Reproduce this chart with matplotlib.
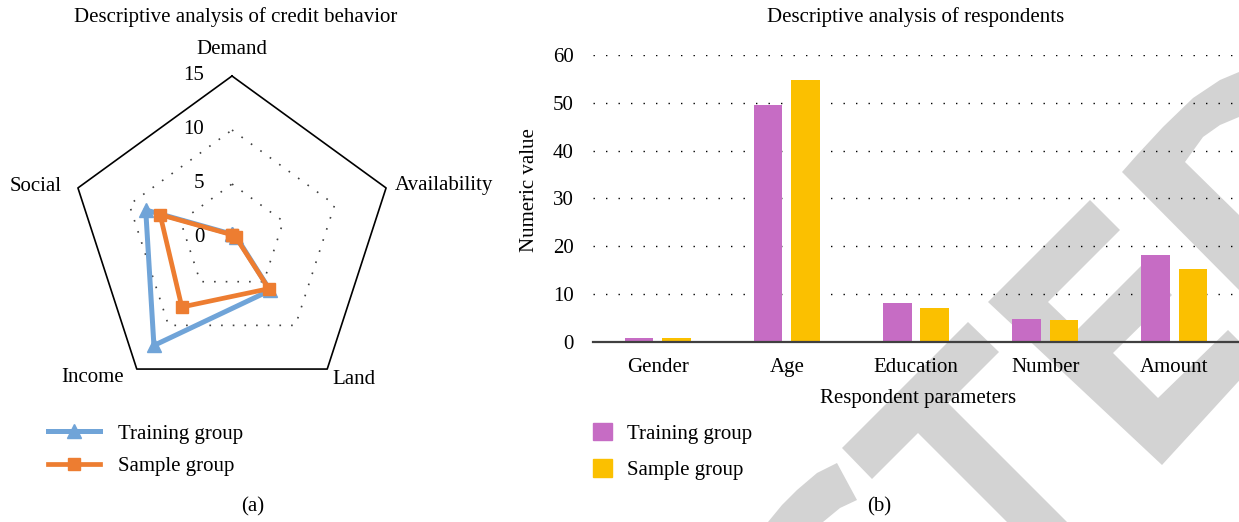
import numpy as np
import matplotlib
matplotlib.use('Agg')
import matplotlib.pyplot as plt
from matplotlib.patches import Polygon, Patch
from matplotlib.lines import Line2D

plt.rcParams['font.family'] = ['Liberation Serif', 'DejaVu Serif']
plt.rcParams['font.size'] = 15

# radar chart (a)
radar_labels = ['Demand', 'Availability', 'Land', 'Income', 'Social']
radar_training = [0.35, 0.4, 6.0, 12.3, 8.4]
radar_sample = [0.3, 0.35, 5.8, 7.9, 7.0]
radar_ticks = [0, 5, 10, 15]

# bar chart (b)
bar_categories = ['Gender', 'Age', 'Education', 'Number', 'Amount']
bar_training = [0.7, 49.5, 8.2, 4.7, 18.1]
bar_sample = [0.7, 54.7, 7.0, 4.5, 15.2]

blue = '#70A4D8'
orange = '#ED7D31'
purple = '#C66CC4'
yellow = '#FBC000'

W, H = 1239, 522
fig = plt.figure(figsize=(W / 100, H / 100), dpi=100)

# grey watermark strokes in the background (pixel coords)
watermark = [
    [(842, 448), (968, 322), (999, 352), (948, 403), (1067, 522), (1007, 522), (918, 433), (872, 479)],
    [(988, 302), (1090, 200), (1120, 230), (1048, 302), (1077, 330), (1142, 265), (1172, 295),
     (1113, 353), (1158, 398), (1228, 330), (1258, 360), (1162, 465)],
    [(768, 522), (782, 505), (797, 490), (817, 473), (837, 463), (857, 500), (840, 508), (823, 522)],
    [(1122, 172), (1137, 155), (1163, 127), (1193, 98), (1220, 80), (1239, 72), (1239, 117),
     (1220, 125), (1203, 137), (1185, 162), (1239, 215), (1239, 290)],
]
bg = fig.add_axes([0, 0, 1, 1], zorder=0)
bg.set_xlim(0, W)
bg.set_ylim(H, 0)
bg.axis('off')
for poly in watermark:
    bg.add_patch(Polygon(poly, closed=True, facecolor='#D3D3D3', edgecolor='none'))

# ---- (a) radar ----
axr = fig.add_axes([70 / W, (H - 238 - 162) / H, 324 / W, 324 / H], projection='polar', zorder=1)
axr.set_theta_zero_location('N')
axr.set_theta_direction(-1)
theta = np.linspace(0, 2 * np.pi, len(radar_labels), endpoint=False)
tc = np.append(theta, theta[0])
rmax = radar_ticks[-1]
axr.set_ylim(0, rmax)
axr.grid(False)
axr.set_xticks([])
axr.set_yticks([])
axr.spines['polar'].set_visible(False)
axr.patch.set_visible(False)

for r in radar_ticks[1:-1]:
    axr.plot(tc, [r] * len(tc), color='#404040', lw=1.2, ls=(0, (1, 6)), clip_on=False)
axr.plot(tc, [rmax] * len(tc), color='black', lw=1.2, clip_on=False)

def closed(v):
    return list(v) + [v[0]]

axr.plot(tc, closed(radar_training), color=blue, lw=3.6, marker='^', ms=10, clip_on=False,
         solid_joinstyle='round')
axr.plot(tc, closed(radar_sample), color=orange, lw=3.4, marker='s', ms=9, clip_on=False,
         solid_joinstyle='round')

for r in radar_ticks:
    axr.annotate(str(r), xy=(0, r), xytext=(-20, 0), textcoords='offset points',
                 ha='right', va='center')

label_offsets = {
    'Demand': ((0, 19), 'center'),
    'Availability': ((6.5, 1.5), 'left'),
    'Land': ((3.5, -7.5), 'left'),
    'Income': ((-9.5, -6), 'right'),
    'Social': ((-12, 1), 'right'),
}
for t, name in zip(theta, radar_labels):
    off, ha = label_offsets[name]
    axr.annotate(name, xy=(t, rmax), xytext=off, textcoords='offset points', ha=ha, va='center')

h1 = [Line2D([], [], color=blue, lw=3.6, marker='^', ms=10),
      Line2D([], [], color=orange, lw=3.4, marker='s', ms=9)]
axr.legend(h1, ['Training group', 'Sample group'], loc='upper left',
           bbox_to_anchor=(48 / W, 1 - 424 / H), bbox_transform=fig.transFigure,
           frameon=False, borderpad=0, borderaxespad=0, handlelength=2.5,
           handletextpad=0.85, labelspacing=0.64)

# ---- (b) bars ----
axb = fig.add_axes([593 / W, (H - 341.7) / H, (W - 593) / W, 286.7 / H], zorder=1)
axb.patch.set_visible(False)
x = np.arange(len(bar_categories))
axb.bar(x - 0.145, bar_training, 0.222, color=purple, label='Training group', zorder=2)
axb.bar(x + 0.145, bar_sample, 0.222, color=yellow, label='Sample group', zorder=2)
axb.set_xlim(-0.5, len(bar_categories) - 0.5)
axb.set_ylim(0, 60)
axb.set_yticks(range(0, 61, 10))
axb.set_xticks(x)
axb.set_xticklabels(bar_categories)
axb.tick_params(axis='both', length=0)
axb.tick_params(axis='y', pad=14)
axb.tick_params(axis='x', pad=12)
axb.yaxis.grid(True, color='black', lw=1.0, ls=(0, (1, 8)))
axb.set_axisbelow(True)
for s in ['left', 'top', 'right']:
    axb.spines[s].set_visible(False)
axb.spines['bottom'].set_color('#404040')
axb.spines['bottom'].set_linewidth(1.6)
axb.spines['bottom'].set_zorder(3)

h2 = [Patch(color=purple), Patch(color=yellow)]
axb.legend(h2, ['Training group', 'Sample group'], loc='upper left',
           bbox_to_anchor=(593 / W, 1 - 423 / H), bbox_transform=fig.transFigure,
           frameon=False, borderpad=0, borderaxespad=0, handlelength=0.9, handleheight=0.9,
           handletextpad=0.75, labelspacing=0.75)

fig.text(236 / W, 1 - 17 / H, 'Descriptive analysis of credit behavior', ha='center', va='center')
fig.text(916 / W, 1 - 17 / H, 'Descriptive analysis of respondents', ha='center', va='center')
fig.text(530 / W, 1 - 190 / H, 'Numeric value', rotation=90, ha='center', va='center')
fig.text(918 / W, 1 - 398 / H, 'Respondent parameters', ha='center', va='center')
fig.text(253 / W, 1 - 507 / H, '(a)', ha='center', va='center')
fig.text(879 / W, 1 - 507 / H, '(b)', ha='center', va='center')

fig.savefig('out.png', dpi=100)
